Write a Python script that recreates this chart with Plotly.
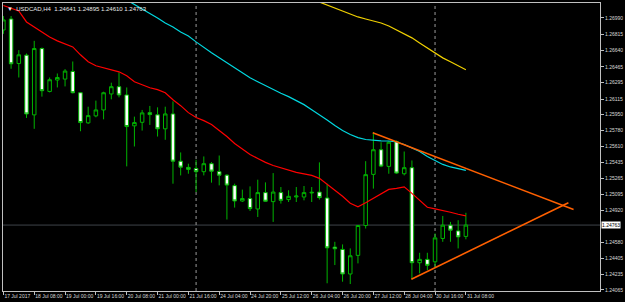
import plotly.graph_objects as go

# ---------------- data ----------------
bar_index = list(range(61))
opens = [1.26861, 1.26979, 1.26500, 1.26590, 1.25948, 1.26661, 1.26200, 1.26323, 1.26333, 1.26415,
         1.26186, 1.25862, 1.25937, 1.26001, 1.26173, 1.26251, 1.26162, 1.25830, 1.25868, 1.25972,
         1.25948, 1.25798, 1.25958, 1.25450, 1.25383, 1.25372, 1.25337, 1.25423, 1.25337, 1.25300,
         1.25187, 1.25022, 1.25048, 1.24936, 1.25112, 1.25015, 1.25112, 1.25037, 1.25065, 1.25065,
         1.25108, 1.25118, 1.25054, 1.24526, 1.24501, 1.24237, 1.24437, 1.24758, 1.25308, 1.25573,
         1.25394, 1.25662, 1.25315, 1.25380, 1.24358, 1.24394, 1.24368, 1.24619, 1.24762, 1.24700,
         1.24641]
highs = [1.27011, 1.27011, 1.26644, 1.26608, 1.26744, 1.26672, 1.26350, 1.26393, 1.26440, 1.26522,
         1.26194, 1.26036, 1.26101, 1.26197, 1.26294, 1.26404, 1.26243, 1.25929, 1.26001, 1.26044,
         1.26029, 1.26036, 1.26093, 1.25544, 1.25423, 1.25465, 1.25501, 1.25440, 1.25511, 1.25308,
         1.25208, 1.25144, 1.25179, 1.25251, 1.25222, 1.25322, 1.25172, 1.25137, 1.25172, 1.25183,
         1.25172, 1.25437, 1.25208, 1.24583, 1.24555, 1.24512, 1.24762, 1.25450, 1.25761, 1.25654,
         1.25665, 1.25672, 1.25554, 1.25458, 1.24465, 1.24465, 1.24673, 1.24861, 1.24797, 1.24815,
         1.24895]
lows = [1.26819, 1.26444, 1.26350, 1.25915, 1.25798, 1.26144, 1.26190, 1.26243, 1.26254, 1.26179,
        1.25772, 1.25851, 1.25922, 1.25900, 1.26115, 1.26136, 1.25394, 1.25608, 1.25779, 1.25840,
        1.25715, 1.25680, 1.25208, 1.25297, 1.25315, 1.25118, 1.25297, 1.25219, 1.25190, 1.24823,
        1.24951, 1.25011, 1.24915, 1.24850, 1.25011, 1.24797, 1.24994, 1.25011, 1.25011, 1.25029,
        1.25011, 1.25037, 1.24137, 1.24333, 1.24154, 1.24129, 1.24351, 1.24726, 1.25155, 1.25386,
        1.25315, 1.25315, 1.25297, 1.24180, 1.24244, 1.24279, 1.24315, 1.24583, 1.24583, 1.24512,
        1.24610]
closes = [1.26969, 1.26497, 1.26594, 1.25958, 1.26661, 1.26208, 1.26326, 1.26350, 1.26419, 1.26186,
          1.25865, 1.25940, 1.26001, 1.26186, 1.26251, 1.26162, 1.25822, 1.25865, 1.25969, 1.25951,
          1.25798, 1.25958, 1.25450, 1.25386, 1.25362, 1.25337, 1.25423, 1.25343, 1.25300, 1.25193,
          1.25022, 1.25048, 1.24940, 1.25112, 1.25019, 1.25118, 1.25029, 1.25072, 1.25075, 1.25112,
          1.25115, 1.25058, 1.24518, 1.24508, 1.24237, 1.24433, 1.24758, 1.25305, 1.25573, 1.25397,
          1.25654, 1.25322, 1.25380, 1.24358, 1.24394, 1.24330, 1.24625, 1.24762, 1.24708, 1.24636,
          1.24763]

ma_red = [1.27124, 1.27097, 1.27065, 1.26947, 1.26894, 1.26840, 1.26786, 1.26744, 1.26711, 1.26679,
          1.26594, 1.26519, 1.26476, 1.26454, 1.26433, 1.26411, 1.26369, 1.26304, 1.26272, 1.26240,
          1.26219, 1.26186, 1.26111, 1.26047, 1.25972, 1.25919, 1.25886, 1.25844, 1.25779, 1.25715,
          1.25640, 1.25576, 1.25522, 1.25479, 1.25437, 1.25404, 1.25378, 1.25351, 1.25329, 1.25313,
          1.25297, 1.25265, 1.25201, 1.25137, 1.25072, 1.24997, 1.24960, 1.25003, 1.25051, 1.25104,
          1.25147, 1.25158, 1.25174, 1.25104, 1.25029, 1.24954, 1.24938, 1.24922, 1.24901, 1.24879,
          1.24861]
ma_cyan_index = list(range(16, 61))
ma_cyan = [1.27183, 1.27137, 1.27086, 1.27038, 1.26990, 1.26936, 1.26894, 1.26840, 1.26797, 1.26733,
           1.26669, 1.26615, 1.26561, 1.26508, 1.26454, 1.26401, 1.26347, 1.26304, 1.26261, 1.26219,
           1.26181, 1.26144, 1.26101, 1.26058, 1.26004, 1.25951, 1.25892, 1.25833, 1.25779, 1.25737,
           1.25704, 1.25683, 1.25672, 1.25669, 1.25667, 1.25656, 1.25629, 1.25592, 1.25554, 1.25501,
           1.25458, 1.25415, 1.25388, 1.25367, 1.25351]
ma_yellow_index = list(range(41, 61))
ma_yellow = [1.27161, 1.27129, 1.27097, 1.27065, 1.27033, 1.27001, 1.26979, 1.26958, 1.26936, 1.26904,
             1.26861, 1.26819, 1.26776, 1.26722, 1.26669, 1.26615, 1.26561, 1.26519, 1.26476, 1.26433]

trend_upper_x = [47.92, 73.97]
trend_upper_y = [1.25755, 1.24930]
trend_lower_x = [52.93, 73.3]
trend_lower_y = [1.24180, 1.25004]

separator_index = [25, 56]
current_price = 1.24763

price_ticks = [1.26990, 1.26815, 1.26640, 1.26465, 1.26295, 1.26115, 1.25950, 1.25780, 1.25610,
               1.25435, 1.25265, 1.25095, 1.24920, 1.24580, 1.24405, 1.24235, 1.24065]
time_tick_index = [0, 4, 8, 12, 16, 20, 24, 28, 32, 36, 40, 44, 48, 52, 56, 60]
time_tick_text = ["17 Jul 2017", "18 Jul 08:00", "19 Jul 00:00", "19 Jul 16:00", "20 Jul 08:00",
                  "21 Jul 00:00", "21 Jul 16:00", "24 Jul 04:00", "24 Jul 20:00", "25 Jul 12:00",
                  "26 Jul 04:00", "26 Jul 20:00", "27 Jul 12:00", "28 Jul 04:00", "30 Jul 16:00",
                  "31 Jul 08:00"]
title_text = "▼  USDCAD,H4  1.24641 1.24895 1.24610 1.24763"

# ---------------- styles ----------------
GREEN = "#00b400"
AXIS = "#c0c0c0"
FONT = "Liberation Sans"

fig = go.Figure()

fig.add_hline(y=current_price, line=dict(color="#3e444a", width=1), layer="below")
for s in separator_index:
    fig.add_vline(x=s, line=dict(color="#9a9a9a", width=1, dash="dot"), layer="below")

fig.add_trace(go.Candlestick(
    x=bar_index, open=opens, high=highs, low=lows, close=closes,
    increasing=dict(line=dict(color=GREEN, width=1), fillcolor="#000000"),
    decreasing=dict(line=dict(color=GREEN, width=1), fillcolor="#ffffff"),
    whiskerwidth=0, showlegend=False, hoverinfo="skip"))

fig.add_trace(go.Scatter(x=bar_index, y=ma_red, mode="lines",
                         line=dict(color="#ff0000", width=1.2), showlegend=False, hoverinfo="skip"))
fig.add_trace(go.Scatter(x=ma_cyan_index, y=ma_cyan, mode="lines",
                         line=dict(color="#00d8e0", width=1.2), showlegend=False, hoverinfo="skip"))
fig.add_trace(go.Scatter(x=ma_yellow_index, y=ma_yellow, mode="lines",
                         line=dict(color="#f0d000", width=1.2), showlegend=False, hoverinfo="skip"))

fig.add_trace(go.Scatter(x=trend_upper_x, y=trend_upper_y, mode="lines",
                         line=dict(color="#ff6000", width=1.6), showlegend=False, hoverinfo="skip"))
fig.add_trace(go.Scatter(x=trend_lower_x, y=trend_lower_y, mode="lines",
                         line=dict(color="#ff6000", width=1.6), showlegend=False, hoverinfo="skip"))

fig.add_annotation(x=0, y=1, xref="paper", yref="paper", xanchor="left", yanchor="top",
                   text=title_text, showarrow=False, xshift=2, yshift=-1,
                   font=dict(family=FONT, size=6, color="#e8e8e8"))
fig.add_annotation(x=1, y=current_price, xref="paper", yref="y", xanchor="left", yanchor="middle",
                   text=str(current_price), showarrow=False, xshift=1,
                   bgcolor="#ffffff", borderpad=0,
                   font=dict(family=FONT, size=5, color="#000000"))

fig.update_layout(
    width=625, height=302,
    margin=dict(l=2, r=21, t=2, b=11),
    paper_bgcolor="#000000", plot_bgcolor="#000000",
    boxgap=0.35,
    xaxis=dict(range=[-0.05, 77.4], rangeslider=dict(visible=False),
               tickmode="array", tickvals=time_tick_index, ticktext=time_tick_text,
               tickangle=0, ticks="outside", ticklen=3, tickcolor=AXIS,
               ticklabelposition="outside right",
               showgrid=False, zeroline=False, showline=True, linecolor=AXIS, mirror=True,
               tickfont=dict(family=FONT, size=5, color="#d8d8d8")),
    yaxis=dict(range=[1.24054, 1.27151], side="right",
               tickmode="array", tickvals=price_ticks, ticktext=[f"{v:.5f}" for v in price_ticks],
               ticks="outside", ticklen=3, tickcolor=AXIS,
               showgrid=False, zeroline=False, showline=True, linecolor=AXIS, mirror=True,
               tickfont=dict(family=FONT, size=5, color="#d8d8d8")),
    hovermode=False,
)

fig.write_html("out.html")
